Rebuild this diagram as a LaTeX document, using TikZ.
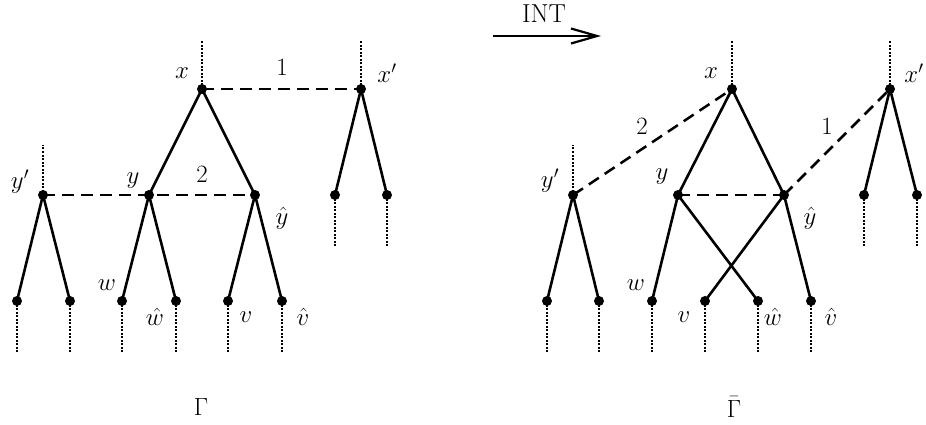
\documentclass[tikz,border=0pt]{standalone}
\usetikzlibrary{arrows.meta}
\begin{document}
\begin{tikzpicture}[x=1pt,y=-1pt,
  dot/.style={circle,fill=black,inner sep=0pt,minimum size=10pt},
  edge/.style={line width=2.6pt},
  bond/.style={line width=2.5pt,dash pattern=on 12pt off 7pt},
  stub/.style={line width=2.2pt,dash pattern=on 2pt off 1.5pt},
  lab/.style={inner sep=0pt,font=\fontsize{24}{28}\selectfont}]
\useasboundingbox (0,0) rectangle (926,425);
% ---------- left diagram ----------
\node[dot] (Lx) at (202,89) {};
\node[dot] (Lxp) at (361,89) {};
\node[dot] (Lyp) at (43,195) {};
\node[dot] (Ly) at (149,195) {};
\node[dot] (Lyh) at (255,195) {};
\node[dot] (Lxa) at (335,195) {};
\node[dot] (Lxb) at (387,195) {};
\node[dot] (La) at (17,301) {};
\node[dot] (Lb) at (70,301) {};
\node[dot] (Lw) at (122,301) {};
\node[dot] (Lwh) at (176,301) {};
\node[dot] (Lv) at (228,301) {};
\node[dot] (Lvh) at (282,301) {};
\coordinate (Lxt) at (202,40);
\coordinate (Lxpt) at (361,40);
\coordinate (Lypt) at (43,145);
\coordinate (Lxae) at (335,247);
\coordinate (Lxbe) at (387,247);
\coordinate (Lae) at (17,352);
\coordinate (Lbe) at (70,352);
\coordinate (Lwe) at (122,352);
\coordinate (Lwhe) at (176,352);
\coordinate (Lve) at (228,352);
\coordinate (Lvhe) at (282,352);
\foreach \a/\b in {Lx/Lxt,Lxp/Lxpt,Lyp/Lypt,Lxa/Lxae,Lxb/Lxbe,La/Lae,Lb/Lbe,Lw/Lwe,Lwh/Lwhe,Lv/Lve,Lvh/Lvhe}
  \draw[stub] (\a.center) -- (\b);
\foreach \a/\b in {Lx/Ly,Lx/Lyh,Lxp/Lxa,Lxp/Lxb,Lyp/La,Lyp/Lb,Ly/Lw,Ly/Lwh,Lyh/Lv,Lyh/Lvh}
  \draw[edge] (\a.center) -- (\b.center);
\draw[bond] (Lx.center) -- (Lxp.center);
\draw[bond] (Lyp.center) -- (Ly.center) -- (Lyh.center);
\node[lab] (Llx) at (182,73) {$x$};
\node[lab] (Ll1) at (282,67) {$1$};
\node[lab] (Llxp) at (387,73) {$x'$};
\node[lab] (Llyp) at (20,182) {$y'$};
\node[lab] (Lly) at (133,181) {$y$};
\node[lab] (Ll2) at (202,174) {$2$};
\node[lab] (Llyh) at (282,218) {$\hat y$};
\node[lab] (Llw) at (107,285) {$w$};
\node[lab] (Llwh) at (155,317) {$\hat w$};
\node[lab] (Llv) at (246,317) {$v$};
\node[lab] (Llvh) at (303,317) {$\hat v$};
\node[lab] (LG) at (201,407) {$\Gamma$};
% ---------- arrow ----------
\coordinate (As) at (493,36);
\coordinate (Ae) at (601,36);
\draw[line width=2.2pt,-{Straight Barb[length=26pt,width=15pt,line width=2.2pt]}] (As) -- (Ae);
\node[lab,font=\fontsize{26}{30}\selectfont] (Int) at (544,14) {INT};
% ---------- right diagram ----------
\node[dot] (Rx) at (732,89) {};
\node[dot] (Rxp) at (890,89) {};
\node[dot] (Ryp) at (573,195) {};
\node[dot] (Ry) at (678,195) {};
\node[dot] (Ryh) at (784,195) {};
\node[dot] (Rxa) at (864,195) {};
\node[dot] (Rxb) at (917,195) {};
\node[dot] (Ra) at (547,301) {};
\node[dot] (Rb) at (599,301) {};
\node[dot] (Rw) at (652,301) {};
\node[dot] (Rv) at (705,301) {};
\node[dot] (Rwh) at (758,301) {};
\node[dot] (Rvh) at (811,301) {};
\coordinate (Rxt) at (732,40);
\coordinate (Rxpt) at (890,40);
\coordinate (Rypt) at (573,145);
\coordinate (Rxae) at (864,247);
\coordinate (Rxbe) at (917,247);
\coordinate (Rae) at (547,352);
\coordinate (Rbe) at (599,352);
\coordinate (Rwe) at (652,352);
\coordinate (Rve) at (705,352);
\coordinate (Rwhe) at (758,352);
\coordinate (Rvhe) at (811,352);
\foreach \a/\b in {Rx/Rxt,Rxp/Rxpt,Ryp/Rypt,Rxa/Rxae,Rxb/Rxbe,Ra/Rae,Rb/Rbe,Rw/Rwe,Rv/Rve,Rwh/Rwhe,Rvh/Rvhe}
  \draw[stub] (\a.center) -- (\b);
\foreach \a/\b in {Rx/Ry,Rx/Ryh,Rxp/Rxa,Rxp/Rxb,Ryp/Ra,Ryp/Rb,Ry/Rw,Ry/Rwh,Ryh/Rv,Ryh/Rvh}
  \draw[edge] (\a.center) -- (\b.center);
\draw[bond] (Ryp.center) -- (Rx.center);
\draw[bond] (Ryh.center) -- (Rxp.center);
\draw[bond] (Ry.center) -- (Ryh.center);
\node[lab] (Rlx) at (711,73) {$x$};
\node[lab] (Rlxp) at (914,73) {$x'$};
\node[lab] (Rlyp) at (550,181) {$y'$};
\node[lab] (Rly) at (662,177) {$y$};
\node[lab] (Rl2) at (642,126) {$2$};
\node[lab] (Rl1) at (827,126) {$1$};
\node[lab] (Rlyh) at (810,218) {$\hat y$};
\node[lab] (Rlw) at (636,285) {$w$};
\node[lab] (Rlv) at (684,317) {$v$};
\node[lab] (Rlwh) at (773,317) {$\hat w$};
\node[lab] (Rlvh) at (831,317) {$\hat v$};
\node[lab] (RG) at (734,407) {$\bar\Gamma$};
\end{tikzpicture}
\end{document}
